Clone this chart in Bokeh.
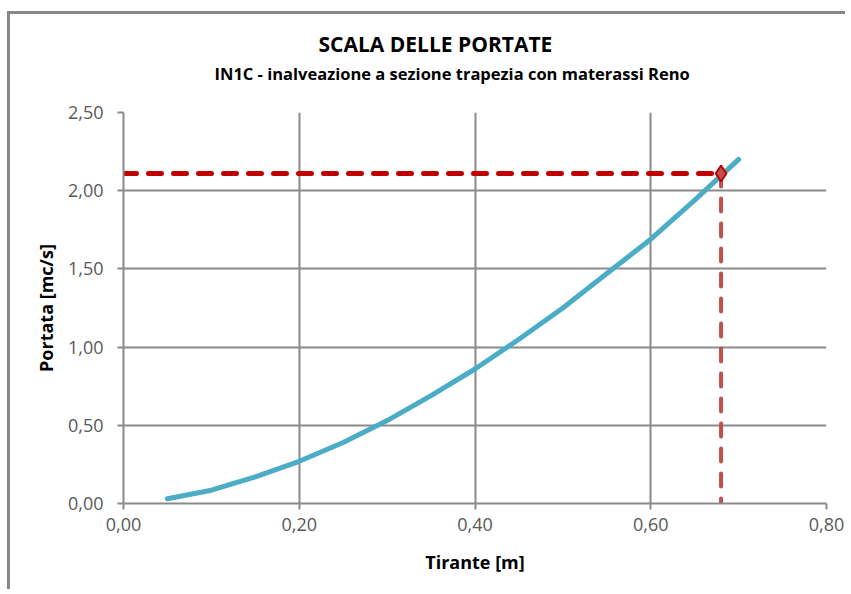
from bokeh.plotting import figure
from bokeh.models import FixedTicker, CustomJSTickFormatter, Title, Range1d
from bokeh.embed import file_html
from bokeh.resources import INLINE

# Data
tirante = [0.05, 0.10, 0.15, 0.20, 0.25, 0.30, 0.35, 0.40, 0.45, 0.50, 0.55, 0.60, 0.65, 0.70]
portata = [0.03, 0.085, 0.17, 0.27, 0.39, 0.53, 0.69, 0.86, 1.05, 1.25, 1.47, 1.69, 1.94, 2.20]
punto_x = 0.68
punto_y = 2.11
x_ticks = [0.0, 0.2, 0.4, 0.6, 0.8]
y_ticks = [0.0, 0.5, 1.0, 1.5, 2.0, 2.5]

FONT = "Open Sans"
GRID = "#8a8a8a"

p = figure(width=838, height=578, output_backend="svg", toolbar_location=None,
           x_range=Range1d(0, 0.8), y_range=Range1d(0, 2.5),
           min_border_left=113, min_border_right=22, min_border_top=98, min_border_bottom=89)
p.styles = {"border-top": "3px solid #878787", "border-left": "3px solid #878787",
            "margin-top": "11px", "margin-left": "7px"}
p.outline_line_color = None
p.background_fill_color = "white"
p.border_fill_color = "white"

for ax in (p.xaxis, p.yaxis):
    ax.axis_line_color = GRID
    ax.axis_line_width = 2
    ax.major_tick_line_color = GRID
    ax.major_tick_line_width = 2
    ax.major_tick_out = 6
    ax.major_tick_in = 0
    ax.minor_tick_line_color = None
    ax.major_label_text_font = FONT
    ax.major_label_text_font_size = "18px"
    ax.major_label_text_color = "#595959"
    ax.axis_label_text_font = FONT
    ax.axis_label_text_font_size = "18px"
    ax.axis_label_text_font_style = "bold"
    ax.axis_label_text_color = "black"
    ax.formatter = CustomJSTickFormatter(code="return tick.toFixed(2).replace('.', ',');")

p.xaxis.ticker = FixedTicker(ticks=x_ticks)
p.yaxis.ticker = FixedTicker(ticks=y_ticks)
p.xaxis.axis_label = "Tirante [m]"
p.yaxis.axis_label = "Portata [mc/s]"
p.xaxis.major_label_standoff = 8
p.yaxis.major_label_standoff = 14
p.xaxis.axis_label_standoff = 16
p.yaxis.axis_label_standoff = 7

p.xgrid.ticker = FixedTicker(ticks=x_ticks)
p.ygrid.ticker = FixedTicker(ticks=y_ticks)
p.grid.grid_line_color = GRID
p.grid.grid_line_width = 2

# curve
p.line(tirante, portata, line_color="#4BACC6", line_width=5, line_cap="round",
       line_join="round")

# reference dashed lines
p.line([0, punto_x], [punto_y, punto_y], line_color="#C00000", line_width=5,
       line_dash="13 12", line_cap="round")
p.line([punto_x, punto_x], [punto_y, 0], line_color="#C0504D", line_width=4,
       line_dash="13 12", line_cap="round")
p.scatter([punto_x], [punto_y], marker="diamond", size=16, fill_color="#C0504D",
          line_color="#C00000", line_width=2)

# titles (first added sits closest to the plot)
p.add_layout(Title(text="IN1C - inalveazione a sezione trapezia con materassi  Reno",
                   align="left", offset=91, vertical_align="bottom", standoff=56,
                   text_font=FONT, text_font_style="bold", text_font_size="16.5px",
                   text_color="black"), "above")
p.add_layout(Title(text="SCALA DELLE PORTATE",
                   align="left", offset=195, vertical_align="bottom", standoff=-52,
                   text_font=FONT, text_font_style="bold", text_font_size="21px",
                   text_color="black"), "above")

open("out.html", "w").write(file_html(p, INLINE))
